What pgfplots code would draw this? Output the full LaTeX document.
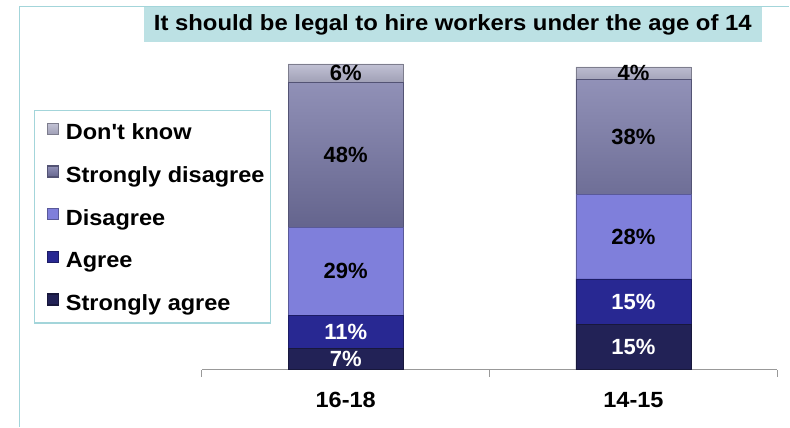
\documentclass[border=0pt]{standalone}
\usepackage{pgfplots}
\pgfplotsset{compat=1.18}
\usepackage{fontspec}
\setmainfont{Liberation Sans}[Ligatures=TeXOff]
\definecolor{frame}{HTML}{A3D5DA}
\definecolor{titlebg}{HTML}{BCE1E4}
\definecolor{sa}{HTML}{222256}
\definecolor{ag}{HTML}{282892}
\definecolor{di}{HTML}{7F7FDB}
\definecolor{sd}{HTML}{7676A6}
\definecolor{dk}{HTML}{B2B2CA}
\newcommand{\sx}[1]{\scalebox{1.07}[1]{#1}}
\newcommand{\bigf}{\fontsize{22}{26}\selectfont\bfseries}
\begin{document}
\begin{tikzpicture}[x=1pt,y=1pt]
\path (0,0) rectangle (790,427);
\draw[frame, line width=1.4pt] (19.5,0) -- (19.5,420.5) -- (790,420.5);
\node[fill=titlebg, minimum width=618pt, minimum height=35pt, inner sep=0pt, anchor=north west] at (144,420) {\bigf\scalebox{1.085}[1]{It should be legal to hire workers under the age of 14}};
\begin{axis}[
  at={(202pt,57pt)}, anchor=south west,
  scale only axis, width=576pt, height=303pt,
  xmin=-0.5, xmax=1.5, ymin=0, ymax=100,
  ybar stacked, bar width=115pt,
  clip=false,
  axis y line=none,
  axis x line*=bottom,
  x axis line style={draw=black!40, line width=1.2pt},
  xtick={0,1}, xticklabels={\sx{16-18},\sx{14-15}},
  major tick length=0pt,
  extra x ticks={-0.5,0.5,1.5},
  extra x tick labels={},
  extra x tick style={major tick length=7pt, tick align=outside, tick style={draw=black!40, line width=1.2pt}},
  xticklabel style={font=\bigf, yshift=-19pt},
  reverse legend,
  legend cell align=left,
  legend style={at={(-0.2917,0.858)}, anchor=north west, draw=frame, line width=1.3pt,
    font=\bigf, row sep=17pt, inner xsep=3pt, inner ysep=8pt,
    nodes={inner sep=3pt},
    /tikz/every odd column/.append style={column sep=2pt}},
  legend image code/.code={\path (-9pt,0pt); \fill[#1] (0pt,-3pt) rectangle (11pt,8pt); \path (13pt,0pt);},
]
\addplot[fill=sa, draw=sa!70!black] coordinates {(0,7) (1,15)};
\addplot[fill=ag, draw=ag!70!black] coordinates {(0,11) (1,15)};
\addplot[fill=di, draw=di!70!black] coordinates {(0,29) (1,28)};
\addplot[top color=sd!80!white, bottom color=sd!85!black, draw=sd!70!black] coordinates {(0,48) (1,38)};
\addplot[top color=dk!80!white, bottom color=dk!90!black, draw=dk!70!black] coordinates {(0,6) (1,4)};
\addlegendentry{\strut\sx{Strongly agree}}
\addlegendentry{\strut\sx{Agree}}
\addlegendentry{\strut\sx{Disagree}}
\addlegendentry{\strut\sx{Strongly disagree}}
\addlegendentry{\strut\sx{Don't know}}
\end{axis}
\begin{axis}[
  at={(202pt,57pt)}, anchor=south west,
  scale only axis, width=576pt, height=303pt,
  xmin=-0.5, xmax=1.5, ymin=0, ymax=100,
  hide axis, clip=false,
  nodes near coords align={center},
]
\addplot[draw=none, mark=none, nodes near coords, point meta=explicit symbolic,
  every node near coord/.style={font=\bigf, text=white, anchor=center}]
  coordinates {(0,3.5) [7\%] (0,12.5) [11\%] (1,7.5) [15\%] (1,22.5) [15\%]};
\addplot[draw=none, mark=none, nodes near coords, point meta=explicit symbolic,
  every node near coord/.style={font=\bigf, text=black, anchor=center}]
  coordinates {(0,32.5) [29\%] (0,71) [48\%] (0,98) [6\%] (1,44) [28\%] (1,77) [38\%] (1,98) [4\%]};
\end{axis}
\end{tikzpicture}
\end{document}
